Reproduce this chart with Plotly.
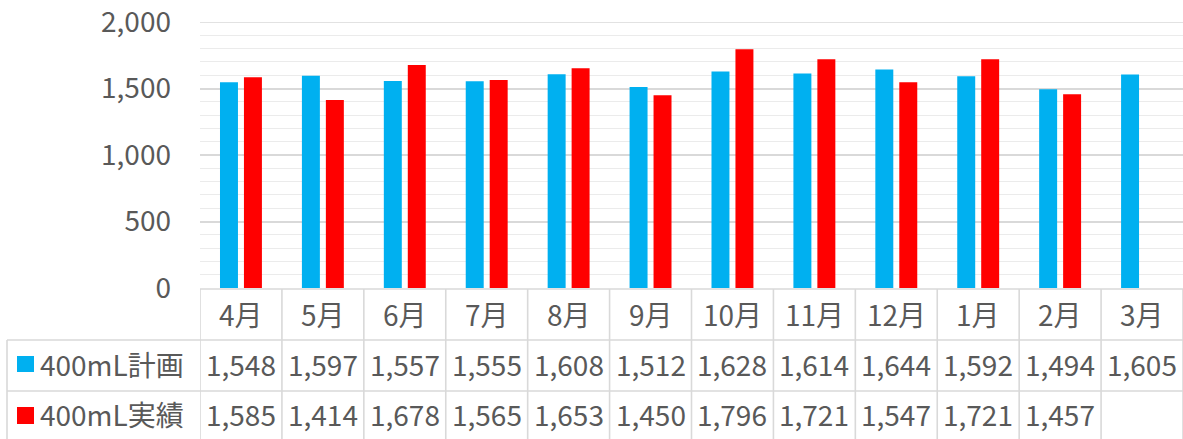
import plotly.graph_objects as go

months = ["4月", "5月", "6月", "7月", "8月", "9月", "10月", "11月", "12月", "1月", "2月", "3月"]
plan_name = "400mL計画"
actual_name = "400mL実績"
plan_values = [1548, 1597, 1557, 1555, 1608, 1512, 1628, 1614, 1644, 1592, 1494, 1605]
actual_values = [1585, 1414, 1678, 1565, 1653, 1450, 1796, 1721, 1547, 1721, 1457, None]
y_ticks = [0, 500, 1000, 1500, 2000]

BLUE = "#00B0F0"
RED = "#FF0000"
TXT = "#595959"
LINE = "#d9d9d9"
FONT = "Noto Sans CJK JP"
FS = 28

W, H = 1183, 439
L, R, T, B = 200, 0, 22, 151
pw, ph = W - L - R, H - T - B

def px_x(p):
    return (p - L) / pw

def px_y(p):
    return (H - B - p) / ph

fig = go.Figure()
fig.add_trace(go.Bar(x=list(range(len(months))), y=plan_values, name=plan_name,
                     marker=dict(color=BLUE, line=dict(width=0))))
fig.add_trace(go.Bar(x=list(range(len(months))), y=actual_values, name=actual_name,
                     marker=dict(color=RED, line=dict(width=0))))

shapes = []
annotations = []
line = dict(color=LINE, width=1.6)

# top major gridline (plotly drops the gridline lying on the plot edge)
shapes.append(dict(type="line", xref="paper", yref="y", x0=0, x1=1, y0=y_ticks[-1], y1=y_ticks[-1],
                   line=line, layer="below"))

y_top = px_y(289)
y_r1 = px_y(340)
y_r2 = px_y(391)
y_bot = px_y(445)

# vertical lines of the data table at category boundaries
for k in range(len(months) + 1):
    shapes.append(dict(type="line", xref="x", yref="paper", x0=k - 0.5, x1=k - 0.5,
                       y0=y_top, y1=y_bot, line=line, layer="above"))
# horizontal lines
shapes.append(dict(type="line", xref="paper", yref="paper", x0=0, x1=1, y0=y_top, y1=y_top, line=line))
for yy in (y_r1, y_r2):
    shapes.append(dict(type="line", xref="paper", yref="paper", x0=px_x(7), x1=1, y0=yy, y1=yy, line=line))
# left border of series-name column
shapes.append(dict(type="line", xref="paper", yref="paper", x0=px_x(7), x1=px_x(7), y0=y_r1, y1=y_bot, line=line))

# legend keys
shapes.append(dict(type="rect", xref="paper", yref="paper", x0=px_x(17), x1=px_x(34),
                   y0=px_y(356), y1=px_y(372), fillcolor=BLUE, line=dict(width=0)))
shapes.append(dict(type="rect", xref="paper", yref="paper", x0=px_x(17), x1=px_x(34),
                   y0=px_y(407), y1=px_y(424), fillcolor=RED, line=dict(width=0)))

font = dict(family=FONT, size=FS, color=TXT)
y_head = px_y(314)
y_row1 = px_y(364)
y_row2 = px_y(414)
for i, m in enumerate(months):
    annotations.append(dict(text=m, x=i, y=y_head, xref="x", yref="paper", showarrow=False,
                            xanchor="center", yanchor="middle", font=font))
    annotations.append(dict(text=f"{plan_values[i]:,}", x=i, y=y_row1, xref="x", yref="paper",
                            showarrow=False, xanchor="center", yanchor="middle", font=font))
    if actual_values[i] is not None:
        annotations.append(dict(text=f"{actual_values[i]:,}", x=i, y=y_row2, xref="x", yref="paper",
                                showarrow=False, xanchor="center", yanchor="middle", font=font))
annotations.append(dict(text=plan_name, x=px_x(38), y=y_row1, xref="paper", yref="paper", showarrow=False,
                        xanchor="left", yanchor="middle", font=font))
annotations.append(dict(text=actual_name, x=px_x(38), y=y_row2, xref="paper", yref="paper", showarrow=False,
                        xanchor="left", yanchor="middle", font=font))

fig.update_layout(
    width=W, height=H,
    margin=dict(l=L, r=R, t=T, b=B, pad=0),
    paper_bgcolor="white", plot_bgcolor="white",
    barmode="group", bargap=0.415, bargroupgap=0.25,
    showlegend=False,
    shapes=shapes, annotations=annotations,
    font=dict(family=FONT, size=FS, color=TXT),
    xaxis=dict(range=[-0.5, len(months) - 0.5], showticklabels=False, showgrid=False,
               zeroline=False, showline=False, fixedrange=True),
    yaxis=dict(range=[0, 2000.5], tickvals=y_ticks, tickformat=",d", showgrid=True,
               gridcolor=LINE, gridwidth=1.6, zeroline=False, showline=False,
               ticks="", ticklabelstandoff=28, ticklabeloverflow="allow",
               tickfont=dict(family=FONT, size=FS, color=TXT),
               minor=dict(dtick=100, showgrid=True, gridcolor="#ebebeb", gridwidth=1.3),
               fixedrange=True),
)

fig.write_html("out.html", config={"displayModeBar": False},
               post_script="document.body.style.margin='0';document.body.style.overflow='hidden';")
